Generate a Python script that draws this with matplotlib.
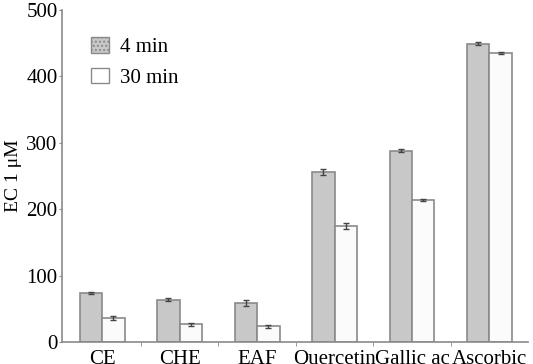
import matplotlib
matplotlib.use("Agg")
import matplotlib.pyplot as plt
import numpy as np
from matplotlib.patches import Patch

categories = ["CE", "CHE", "EAF", "Quercetin", "Gallic ac", "Ascorbic"]
min4 = [74, 64, 59, 256, 288, 449]
min4_err = [2, 2, 4, 4, 2, 2]
min30 = [37, 27, 24, 175, 214, 435]
min30_err = [3, 2, 2, 4, 2, 2]

plt.rcParams['font.family'] = ['Liberation Serif', 'DejaVu Serif']
plt.rcParams['hatch.color'] = "#a0a0a0"

fig = plt.figure(figsize=(5.33, 3.64), dpi=100)
ax = fig.add_axes([0.116, 0.06, 0.875, 0.913])

x = np.arange(len(categories))
w = 0.29
edge = "#8a8a8a"
ax.bar(x - w / 2, min4, w, color="#c8c8c8", edgecolor=edge, linewidth=1.2, zorder=2)
ax.bar(x + w / 2, min30, w, color="#fbfbfb", edgecolor=edge, linewidth=1.2, zorder=2)
ax.errorbar(x - w / 2, min4, yerr=min4_err, fmt="none", ecolor="#444444", elinewidth=1, capsize=2.5, zorder=3)
ax.errorbar(x + w / 2, min30, yerr=min30_err, fmt="none", ecolor="#444444", elinewidth=1, capsize=2.5, zorder=3)

ax.set_xlim(-0.52, 5.5)
ax.set_ylim(0, 500)
ax.set_yticks([0, 100, 200, 300, 400, 500])
ax.set_xticks(x)
ax.set_xticklabels(categories, fontsize=15)
ax.tick_params(axis="x", length=0, pad=6)
ax.set_xticks(x[:-1] + 0.5, minor=True)
ax.tick_params(axis="x", which="minor", length=3, color=edge)
ax.tick_params(axis="y", labelsize=15, length=2, color=edge, pad=1)
ax.set_ylabel("EC 1 μM", fontsize=14, labelpad=3)

for s in ["top", "right"]:
    ax.spines[s].set_visible(False)
for s in ["left", "bottom"]:
    ax.spines[s].set_color(edge)
    ax.spines[s].set_linewidth(1.2)

handles = [Patch(facecolor="#c8c8c8", edgecolor=edge, hatch="....", label="4 min"),
           Patch(facecolor="white", edgecolor=edge, label="30 min")]
ax.legend(handles=handles, loc="upper left", bbox_to_anchor=(0.022, 0.975), frameon=False,
          fontsize=15, handlelength=0.85, handleheight=0.8, labelspacing=0.5, handletextpad=0.55)

fig.savefig("out.png", dpi=100)
